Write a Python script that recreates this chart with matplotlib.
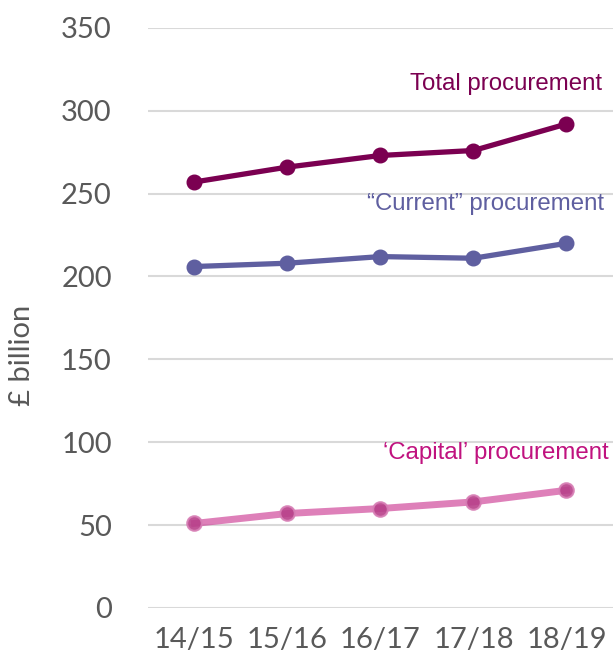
import matplotlib.pyplot as plt
import numpy as np

# Data (£ billion)
years = ['14/15', '15/16', '16/17', '17/18', '18/19']
total = [257, 266, 273, 276, 292]
current = [206, 208, 212, 211, 220]
capital = [51, 57, 60, 64, 71]

fig = plt.figure(figsize=(6.13, 6.63), dpi=100)
ax = fig.add_axes([0.2414, 0.083, 0.7586, 0.875])

x = np.arange(len(years))

ax.plot(x, total, color='#7B0051', lw=3.8, marker='o', ms=10.5, zorder=3)
ax.plot(x, current, color='#5F5FA0', lw=3.8, marker='o', ms=10.5, zorder=3)
ax.plot(x, capital, color='#D04A9C', lw=5, alpha=0.7, zorder=3)
ax.plot(x, capital, lw=0, marker='o', ms=10.5, markerfacecolor='#B8408A',
        markeredgecolor='#D77FB5', markeredgewidth=1.5, alpha=0.9, zorder=4)

ax.text(4.38, 316, 'Total procurement', color='#7B0051', fontsize=17.3,
        family='Liberation Sans', ha='right', va='center')
ax.text(4.40, 244, '\u201cCurrent\u201d procurement', color='#5F5FA0', fontsize=17.3,
        family='Liberation Sans', ha='right', va='center')
ax.text(4.45, 93.5, '\u2018Capital\u2019 procurement', color='#C0127F', fontsize=17.3,
        family='Liberation Sans', ha='right', va='center')

ax.set_xlim(-0.5, 4.5)
ax.set_ylim(0, 350)
ax.set_yticks(np.arange(0, 351, 50))
ax.set_xticks(x)
ax.set_xticklabels(years)
ax.yaxis.grid(True, color='#D9D9D9', lw=1.5)
ax.set_axisbelow(True)
for s in ax.spines.values():
    s.set_visible(False)
ax.tick_params(length=0, labelsize=21, labelcolor='#595959')
ax.tick_params(axis='y', pad=26)
ax.tick_params(axis='x', pad=14)
for lab in ax.get_xticklabels() + ax.get_yticklabels():
    lab.set_family('Lato')
ax.set_ylabel('£ billion', fontsize=21, color='#595959', family='Lato')
ax.yaxis.set_label_coords(-0.243, 0.435)

fig.savefig('out.png', dpi=100, facecolor='white')
